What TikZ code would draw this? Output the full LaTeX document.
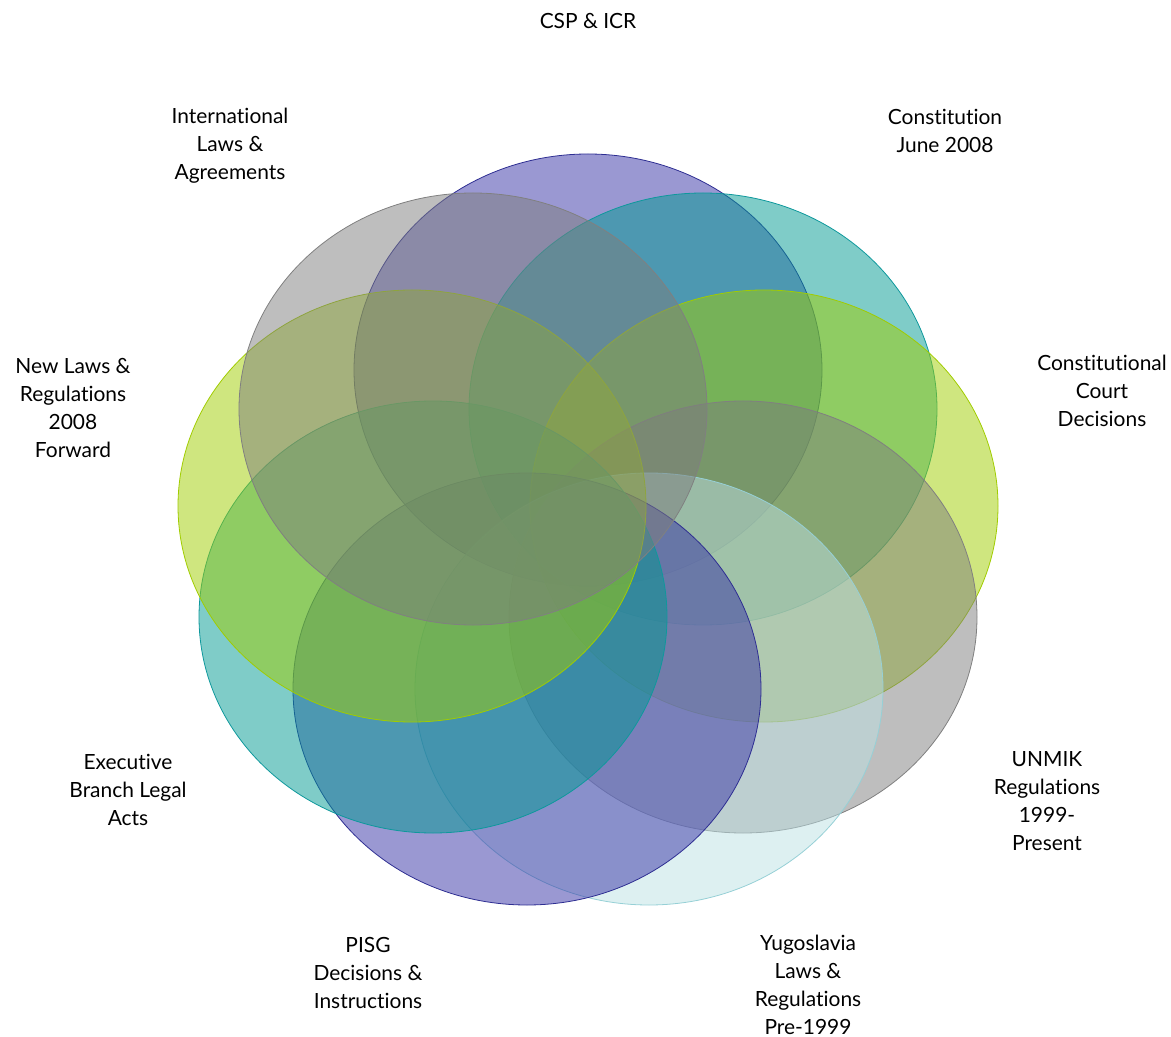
\documentclass[tikz,border=0pt]{standalone}
\usepackage{fontspec}
\setmainfont{Lato}[Ligatures={NoCommon,NoDiscretionary,NoRare}]
\usetikzlibrary{shapes.geometric}
\definecolor{cPurple}{RGB}{54,50,166}
\definecolor{cPurpleE}{RGB}{46,46,146}
\definecolor{cTeal}{RGB}{0,153,146}
\definecolor{cTealE}{RGB}{14,152,156}
\definecolor{cGreen}{RGB}{160,205,0}
\definecolor{cGreenE}{RGB}{160,204,0}
\definecolor{cGray}{RGB}{125,125,125}
\definecolor{cGrayE}{RGB}{128,128,128}
\definecolor{cCyan}{RGB}{188,225,228}
\definecolor{cCyanE}{RGB}{150,208,214}
\tikzset{
  x=0.75pt, y=-0.75pt,
  oval/.style={ellipse, inner sep=0pt, minimum width=351pt, minimum height=324pt,
    fill opacity=0.5, line width=0.6pt},
  purp/.style={oval, fill=cPurple, draw=cPurpleE},
  teal/.style={oval, fill=cTeal, draw=cTealE},
  gren/.style={oval, fill=cGreen, draw=cGreenE},
  gray/.style={oval, fill=cGray, draw=cGrayE},
  cyan/.style={oval, fill=cCyan, draw=cCyanE},
  lbl/.style={align=center, font=\fontsize{15.7pt}{21pt}\selectfont, inner sep=0pt, text=black}
}
\begin{document}
\begin{tikzpicture}
\useasboundingbox (0,0) rectangle (1171,1037);
\node[purp] (e1) at (588,370) {};
\node[teal] (e2) at (703,409) {};
\node[gren] (e3) at (764,506) {};
\node[gray] (e4) at (743,617) {};
\node[cyan] (e5) at (649,689) {};
\node[purp] (e6) at (527,689) {};
\node[teal] (e7) at (433,617) {};
\node[gren] (e8) at (412,506) {};
\node[gray] (e9) at (473,409) {};

\node[lbl] (t1) at (588,21) {CSP \& ICR};
\node[lbl] (t2) at (945,131) {Constitution\\June 2008};
\node[lbl] (t3) at (1102,391) {Constitutional\\Court\\Decisions};
\node[lbl] (t4) at (1047,801) {UNMIK\\Regulations\\1999-\\Present};
\node[lbl] (t5) at (808,985) {Yugoslavia\\Laws \&\\Regulations\\Pre-1999};
\node[lbl] (t6) at (368,973) {PISG\\Decisions \&\\Instructions};
\node[lbl] (t7) at (128,790) {Executive\\Branch Legal\\Acts};
\node[lbl] (t8) at (73,408) {New Laws \&\\Regulations\\2008\\Forward};
\node[lbl] (t9) at (230,146) {International\\Laws \&\\Agreements};
\end{tikzpicture}
\end{document}
